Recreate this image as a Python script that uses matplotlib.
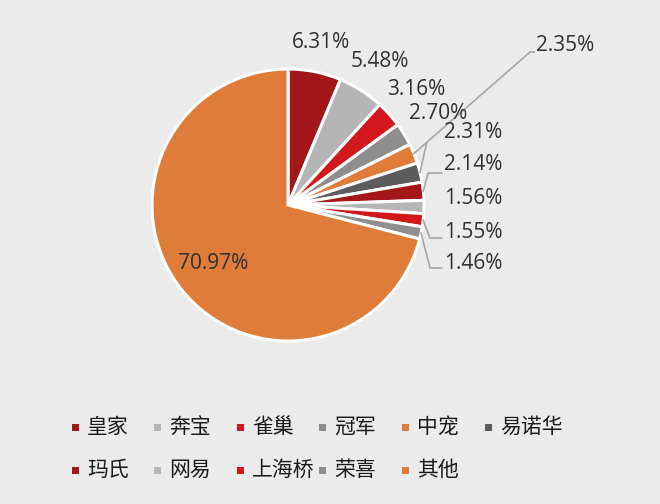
import matplotlib.pyplot as plt
from matplotlib.patches import Rectangle
import numpy as np

plt.rcParams['font.family'] = ['Noto Sans CJK SC', 'DejaVu Sans']

brands = ['皇家', '奔宝', '雀巢', '冠军', '中宠', '易诺华', '玛氏', '网易', '上海桥', '荣喜', '其他']
shares = [6.31, 5.48, 3.16, 2.70, 2.35, 2.31, 2.14, 1.56, 1.55, 1.46, 70.97]
colors = ['#a3161a', '#b5b5b5', '#d2181c', '#8e8e8e', '#e07c3a', '#5c5c5c',
          '#a3161a', '#b5b5b5', '#d2181c', '#8e8e8e', '#e07c3a']
bg = '#ebebeb'

fig = plt.figure(figsize=(6.6, 5.04), dpi=100, facecolor=bg)
# axes covers whole figure; pie centre at (288, 205) px, radius 136 px
ax = fig.add_axes([0, 0, 1, 1])
ax.set_facecolor(bg)
cx, cy, R = 288, 205, 136

wedges, _ = ax.pie(shares, colors=colors, startangle=90, counterclock=False,
                   radius=1.0, wedgeprops=dict(edgecolor='white', linewidth=2.2))
ax.set_xlim(-cx / R, (660 - cx) / R)
ax.set_ylim(-(504 - cy) / R, cy / R)
ax.set_aspect('equal')
ax.axis('off')

pct_font = dict(fontsize=15, color='#303030', family=['Open Sans', 'DejaVu Sans'])
line_kw = dict(color='#a6a6a6', lw=1.2)

mids = [np.deg2rad((w.theta1 + w.theta2) / 2) for w in wedges]
labels = ['%.2f%%' % s for s in shares]

# larger slices: labels outside along the mid angle
for i in range(4):
    r = [1.22, 1.25, 1.27, 1.29][i]
    ax.text(r * np.cos(mids[i]), r * np.sin(mids[i]), labels[i],
            ha='center', va='center', **pct_font)

# 中宠: long leader line to top right
a = mids[4]
ax.plot([np.cos(a), 1.78, 1.81], [np.sin(a), 1.125, 1.125], **line_kw)
ax.text(1.82, 1.17, labels[4], ha='left', va='center', **pct_font)

# small slices stacked on the right
stack_y = [0.53, 0.30, 0.05, -0.20, -0.43]
elbows = [(1.02, 0.46), (1.03, 0.235), None, (1.044, -0.243), (1.044, -0.463)]
for k, i in enumerate(range(5, 10)):
    a = mids[i]
    e = elbows[k]
    if e is not None:
        xs = [np.cos(a), e[0]]
        ys = [np.sin(a), e[1]]
        if k > 0:
            xs.append(1.13)
            ys.append(e[1])
        ax.plot(xs, ys, **line_kw)
    ax.text(1.145, stack_y[k], labels[i], ha='left', va='center', **pct_font)

# pie percentage for 其他 inside the slice
a = mids[10]
ax.text(0.70 * np.cos(a), 0.70 * np.sin(a), labels[10],
        ha='center', va='center', **pct_font)

# legend laid out on a fixed grid (6 per row)
col_x = [75, 157, 240, 322, 405, 488]
row_y = [427, 470]
for i, (name, c) in enumerate(zip(brands, colors)):
    row, col = divmod(i, 6)
    x = col_x[col] / 660
    y = 1 - row_y[row] / 504
    fig.add_artist(Rectangle((x - 3.5 / 660, y - 3.5 / 504), 7 / 660, 7 / 504,
                             transform=fig.transFigure, color=c, lw=0))
    fig.text(x + 12 / 660, y, name, ha='left', va='center', fontsize=15,
             color='#1a1a1a')

fig.savefig('out.png', dpi=100, facecolor=bg)
